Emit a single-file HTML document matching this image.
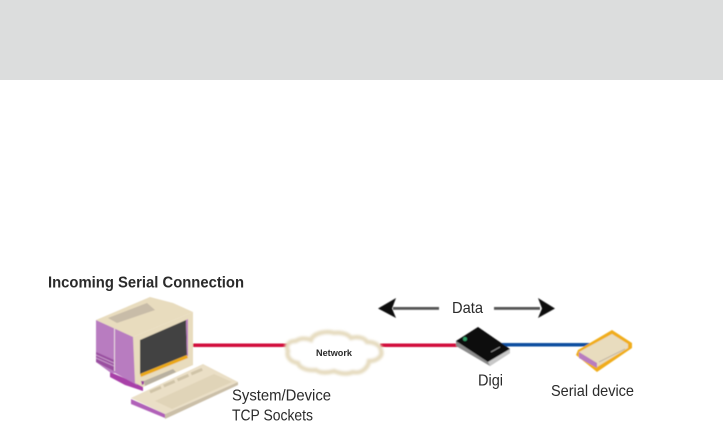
<!DOCTYPE html>
<html>
<head>
<meta charset="utf-8">
<style>
html,body{margin:0;padding:0;background:#fff;width:723px;height:425px;overflow:hidden}
svg{display:block}
text{font-family:"Liberation Sans",sans-serif;fill:#2a2a2a}
</style>
</head>
<body>
<svg width="723" height="425" viewBox="0 0 723 425" xmlns="http://www.w3.org/2000/svg">
<defs>
<filter id="b" x="-5%" y="-5%" width="110%" height="110%"><feGaussianBlur stdDeviation="0.5"/></filter>
<filter id="c" x="-10%" y="-10%" width="120%" height="120%"><feGaussianBlur stdDeviation="1"/></filter>
<filter id="t" x="-5%" y="-20%" width="110%" height="140%"><feGaussianBlur stdDeviation="0.3"/></filter>
</defs>
<rect x="0" y="0" width="723" height="80" fill="#dcdddd"/>

<g filter="url(#b)">
<!-- connectors -->
<rect x="190" y="343.500" width="100" height="3.500" fill="#d2103c"/>
<rect x="380" y="343.500" width="80" height="3.500" fill="#d2103c"/>
<rect x="500" y="343" width="90" height="3.500" fill="#0f4fa0"/>

<!-- computer -->
<polygon points="110,372 143,386 143,391 125,385 110,377" fill="#a83fa8"/>
<polygon points="96,320 134,337 137,385 115,373 111,373 96,362" fill="#b87cc0"/>
<line x1="114.500" y1="328" x2="114.500" y2="371" stroke="#e8d8e0" stroke-width="1"/>
<polygon points="96,352 114,360 114,371 96,362" fill="#9a4fa0"/>
<line x1="96" y1="355" x2="114" y2="363" stroke="#c89ccc"/>
<line x1="96" y1="358" x2="114" y2="366" stroke="#c89ccc"/>
<polygon points="96,320 150,297 173,303 193,312 133,337" fill="#e8dcbe"/>
<polygon points="108,318 147,303 155,310 117,323" fill="#c8bca8"/>
<polygon points="133,337 193,312 193,365 143,387 135,383" fill="#e8dcbe"/>
<polygon points="140,340 186,320 187,355 140,374" fill="#434343"/>
<polygon points="140,374 187,355 188,358 141,377" fill="#eaa818"/>
<polygon points="186,320 188,319 188,356 187,356" fill="#b87cc0"/>
<polygon points="144,381 173,369 176,372 145,386" fill="#b8b0a0"/>
<polygon points="141,381 144,381 144,384 142,385" fill="#9a3fa0"/>

<!-- keyboard -->
<polygon points="131,399 165,414 165,418 131,404" fill="#b060b8"/>
<polygon points="165,414 238,382 238,385 165,419" fill="#cbbfa8"/>
<polygon points="131,398 203,364 238,382 165,414" fill="#eadfc6"/>
<polygon points="155,401 214,374 232,382 172,409" fill="#e0d4b8"/>
<line x1="150" y1="392" x2="205" y2="368" stroke="#d0c4a8" stroke-width="3" stroke-dasharray="12 3"/>

<!-- cloud -->
<g filter="url(#c)">
<path d="M288,351 C285,345 289,341 296,341 C300,338 306,338 311,340 C314,332 328,331 334,333 C341,332 348,334 351,338 C358,336 365,338 367,342 C375,342 381,346 381,351 C383,356 377,361 369,361 C368,368 361,374 353,372 C346,375 339,373 334,371 C327,373 320,373 316,370 C306,371 299,367 298,363 C291,362 286,357 288,351 Z" fill="#fff" stroke="#e6dcc0" stroke-width="4.500"/>
</g>

<!-- digi -->
<polygon points="456,341 478,327 510,349 510,353 490,366 456,346" fill="#8a8a8a"/>
<polygon points="456,341 478,327 510,349 488,362" fill="#0a0a0a"/>
<polygon points="488,362 510,349 510,353 490,366" fill="#c8c8c8"/>
<circle cx="465" cy="339" r="2" fill="#2f9f66"/>
<line x1="491" y1="352" x2="500" y2="347" stroke="#999" stroke-width="1"/>

<!-- serial device -->
<polygon points="576,355 578,350 612,330 632,343 632,348 597,372" fill="#f0ad1a"/>
<polygon points="579,352 612,334 628,344 628,348 597,367 579,357" fill="#e8dcbe"/>
<polygon points="579,352 597,363 597,368 579,358" fill="#b87cc0"/>
<line x1="599" y1="362" x2="625" y2="349" stroke="#c4b8a2" stroke-width="1"/>

<!-- data arrows -->
<rect x="393" y="307" width="46" height="2.800" fill="#555"/>
<polygon points="378,308.500 396,298 392,308.500 396,318" fill="#111"/>
<rect x="494" y="307" width="46" height="2.800" fill="#555"/>
<polygon points="555,308.500 538,298 542,308.500 538,318" fill="#111"/>
</g>

<g filter="url(#t)">
<text x="48" y="287.500" font-size="15.500" font-weight="bold" textLength="196" lengthAdjust="spacingAndGlyphs">Incoming Serial Connection</text>
<text x="232" y="400.500" font-size="16" textLength="99" lengthAdjust="spacingAndGlyphs">System/Device</text>
<text x="232" y="420.500" font-size="16" textLength="81" lengthAdjust="spacingAndGlyphs">TCP Sockets</text>
<text x="452" y="313" font-size="16" textLength="31" lengthAdjust="spacingAndGlyphs">Data</text>
<text x="316" y="356" font-size="9" font-weight="bold" textLength="36" lengthAdjust="spacingAndGlyphs">Network</text>
<text x="478" y="385.500" font-size="16" textLength="25" lengthAdjust="spacingAndGlyphs">Digi</text>
<text x="551" y="396" font-size="16" textLength="83" lengthAdjust="spacingAndGlyphs">Serial device</text>
</g>
</svg>
</body>
</html>
